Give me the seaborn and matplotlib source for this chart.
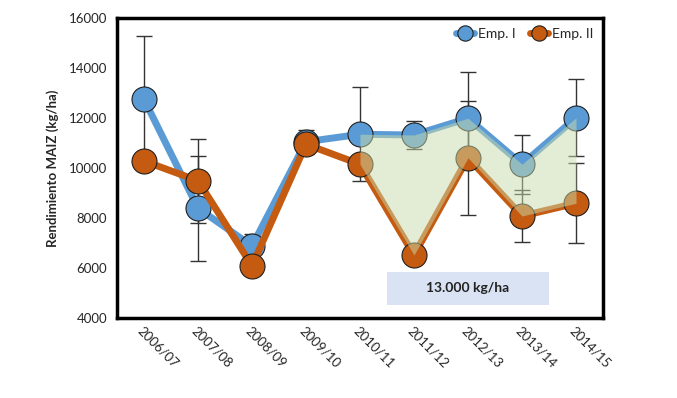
import numpy as np
import seaborn as sns
import matplotlib.pyplot as plt
from matplotlib.lines import Line2D
from matplotlib.patches import Rectangle

seasons = ["2006/07", "2007/08", "2008/09", "2009/10", "2010/11",
           "2011/12", "2012/13", "2013/14", "2014/15"]
emp1 = [12750, 8390, 6880, 11050, 11350, 11320, 11990, 10150, 12010]
emp2 = [10280, 9490, 6090, 10950, 10150, 6520, 10410, 8080, 8590]
emp1_err = [2540, 2100, 500, 470, 1880, 550, 1870, 1190, 1540]
emp2_err = [300, 1670, 300, 300, 300, 300, 2270, 1050, 1600]
note = "13.000 kg/ha"

blue = "#5B9BD5"
orange = "#C55A11"

sns.set_style("white")
plt.rcParams["font.family"] = ["Lato", "DejaVu Sans"]

fig = plt.figure(figsize=(6.77, 3.98), dpi=100)
ax = fig.add_axes([117 / 677, 1 - 318 / 398, 486 / 677, 300 / 398])

x = np.arange(len(seasons))

# error bars behind everything
ax.errorbar(x, emp1, yerr=emp1_err, fmt="none", ecolor="#333333",
            elinewidth=1, capsize=6, capthick=1, zorder=1)
ax.errorbar(x, emp2, yerr=emp2_err, fmt="none", ecolor="#333333",
            elinewidth=1, capsize=6, capthick=1, zorder=1)

sns.lineplot(x=x, y=emp1, ax=ax, color=blue, linewidth=5, marker="o",
             markersize=18, markeredgecolor="#1f1f1f", markeredgewidth=0.8,
             zorder=2)
sns.lineplot(x=x, y=emp2, ax=ax, color=orange, linewidth=5, marker="o",
             markersize=18, markeredgecolor="#1f1f1f", markeredgewidth=0.8,
             zorder=3)

# shaded gap between the two series, last five seasons
ax.fill_between(x[4:], emp1[4:], emp2[4:], color="#C9DBAA", alpha=0.5,
                linewidth=0, zorder=4)

ax.add_patch(Rectangle((4.5, 4520), 3.0, 1320, facecolor="#DAE3F3",
                       edgecolor="none", zorder=5))
ax.text(6.0, 5180, note, ha="center", va="center", fontsize=10,
        fontweight="bold", color="#222222", zorder=6)

ax.set_xlim(-0.5, len(seasons) - 0.5)
ax.set_ylim(4000, 16000)
ax.set_yticks(range(4000, 16001, 2000))
ax.set_xticks(x)
ax.set_xticklabels(seasons, rotation=-45, ha="left", va="top",
                   rotation_mode="anchor", fontsize=9.5)
ax.set_xticks(np.arange(-0.5, len(seasons), 1.0), minor=True)
ax.tick_params(axis="x", which="major", length=0, pad=5)
ax.tick_params(axis="x", which="minor", length=5, width=2.5, direction="out",
               color="black")
ax.tick_params(axis="y", length=5, width=2.5, direction="out", color="black",
               labelsize=9.5, pad=2)

for side in ["left", "bottom", "top", "right"]:
    ax.spines[side].set_visible(True)
    ax.spines[side].set_color("black")
    ax.spines[side].set_linewidth(2.5)

ax.set_ylabel("Rendimiento MAIZ (kg/ha)", fontsize=9.5, fontweight="bold",
              labelpad=7)
ax.set_xlabel("")

handles = [
    Line2D([], [], color=blue, lw=5, marker="o", markersize=11,
           markeredgecolor="#1f1f1f", markeredgewidth=0.8),
    Line2D([], [], color=orange, lw=5, marker="o", markersize=11,
           markeredgecolor="#1f1f1f", markeredgewidth=0.8),
]
ax.legend(handles, ["Emp. I", "Emp. II"], ncol=2, loc="upper right",
          frameon=False, fontsize=10, handlelength=1.3, handletextpad=0.3,
          columnspacing=1.0, borderaxespad=0.3)

fig.savefig("out.png", dpi=100)
